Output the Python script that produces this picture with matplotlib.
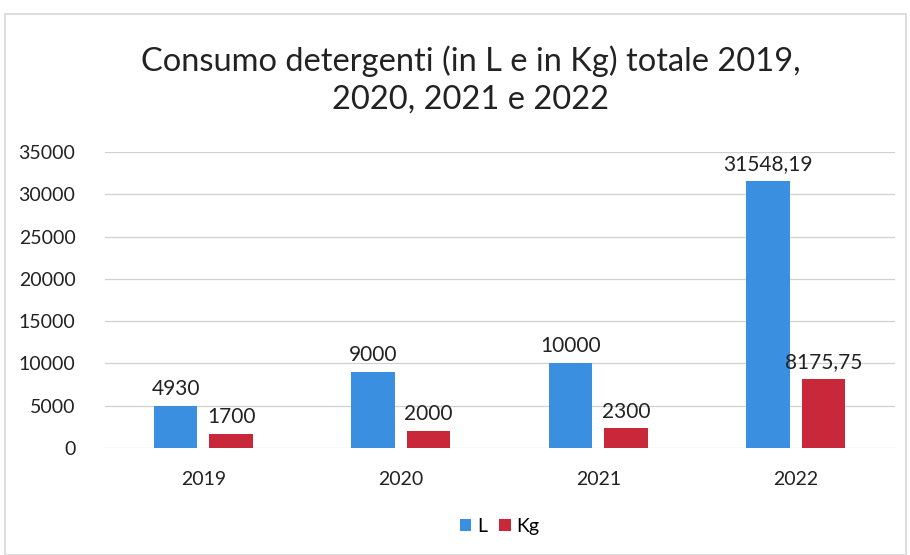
import matplotlib
matplotlib.use("Agg")
from matplotlib import pyplot as plt
from matplotlib.patches import Rectangle
import numpy as np

# data
years = ["2019", "2020", "2021", "2022"]
litri = [4930, 9000, 10000, 31548.19]
kg = [1700, 2000, 2300, 8175.75]


def fmt(v):
    """
    Italian style number label
    """
    if v == int(v):
        return f"{int(v)}"
    return f"{v:.2f}".replace(".", ",")


plt.rcParams["font.family"] = ["Lato", "DejaVu Sans"]

fig = plt.figure(figsize=(9.1, 5.55), dpi=100)
ax = fig.add_axes([0.115, 0.193, 0.868, 0.533])

x = np.arange(len(years))
w = 0.22
blue = "#3b8fe0"
red = "#c9283a"
b1 = ax.bar(x - 0.14, litri, w, color=blue, label="L", zorder=3)
b2 = ax.bar(x + 0.14, kg, w, color=red, label="Kg", zorder=3)

for bars, vals in ((b1, litri), (b2, kg)):
    for b, v in zip(bars, vals):
        ax.annotate(fmt(v), (b.get_x() + b.get_width() / 2, v),
                    xytext=(0, 5), textcoords="offset points",
                    ha="center", va="bottom", fontsize=15, color="#222222")

ax.set_xlim(-0.5, 3.5)
ax.set_ylim(0, 35000)
ax.set_yticks(range(0, 35001, 5000))
ax.set_xticks(x)
ax.set_xticklabels(years)
ax.tick_params(axis="both", length=0, labelsize=14, colors="#222222")
ax.tick_params(axis="y", pad=21)
ax.tick_params(axis="x", pad=17)
ax.yaxis.grid(True, color="#d0d0d0", linewidth=0.9, zorder=0)
for s in ax.spines.values():
    s.set_visible(False)

fig.text(0.517, 0.856, "Consumo detergenti (in L e in Kg) totale 2019,\n2020, 2021 e 2022",
         ha="center", va="center", fontsize=23.5, color="#222222", linespacing=1.35)

ax.legend(loc="center", bbox_to_anchor=(0.5, -0.265), ncol=2, frameon=False,
          fontsize=14, handlelength=0.6, handleheight=0.6, handletextpad=0.3,
          columnspacing=0.6)

# frame of the chart area
fig.patches.append(Rectangle((0.006, 0.0), 0.99, 0.975, transform=fig.transFigure,
                             fill=False, edgecolor="#d8d8d8", linewidth=1.2))

fig.savefig("out.png", dpi=100, facecolor="white")
